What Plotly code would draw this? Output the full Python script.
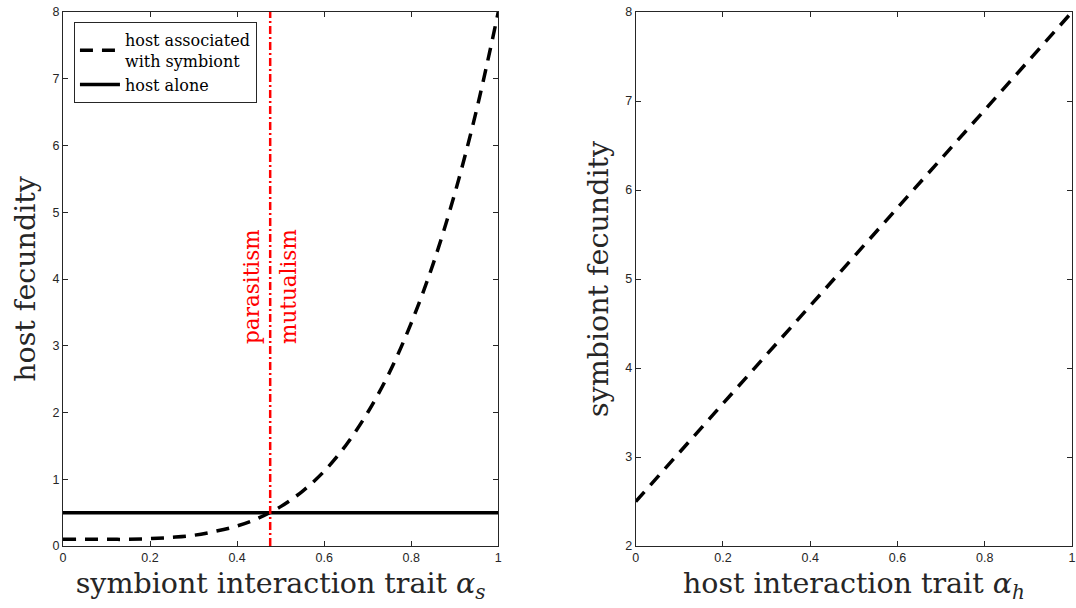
import plotly.graph_objects as go
from plotly.subplots import make_subplots

# ---- data ----
alpha_s = [0.0, 0.05, 0.1, 0.15, 0.2, 0.25, 0.3, 0.35, 0.4, 0.45, 0.5,
           0.55, 0.6, 0.65, 0.7, 0.75, 0.8, 0.85, 0.9, 0.95, 1.0]
host_with_symbiont = [0.10, 0.10, 0.10, 0.10, 0.11, 0.13, 0.16, 0.22, 0.30, 0.42, 0.59,
                      0.82, 1.12, 1.51, 2.00, 2.60, 3.34, 4.22, 5.28, 6.53, 8.00]
host_alone_x = [0.0, 1.0]
host_alone = [0.5, 0.5]
threshold_x = [0.476, 0.476]
threshold_y = [0.0, 8.0]
alpha_h = [0.0, 1.0]
symbiont_fecundity = [2.5, 8.0]
x_ticks = [0, 0.2, 0.4, 0.6, 0.8, 1]
x_tick_labels = ["0", "0.2", "0.4", "0.6", "0.8", "1"]

W, H = 1076, 608
ML, MR, MT, MB = 63, 0, 12, 62
plot_w = W - ML - MR
left_end = (500 - ML) / plot_w
right_start = (638 - ML) / plot_w

serif = "DejaVu Serif"
sans = "Liberation Sans"
axis_col = "#262626"
title_size = 28.5

fig = make_subplots(rows=1, cols=2)

fig.add_trace(go.Scatter(x=alpha_s, y=host_with_symbiont, mode="lines",
                         name="host associated<br>with symbiont",
                         line=dict(color="black", width=3.5, dash="13px,9px", shape="spline")),
              row=1, col=1)
fig.add_trace(go.Scatter(x=host_alone_x, y=host_alone, mode="lines", name="host alone",
                         line=dict(color="black", width=3.5)), row=1, col=1)
fig.add_trace(go.Scatter(x=threshold_x, y=threshold_y, mode="lines", showlegend=False,
                         line=dict(color="#ff0000", width=2.5, dash="8px,3px,2px,3px")),
              row=1, col=1)
fig.add_trace(go.Scatter(x=alpha_h, y=symbiont_fecundity, mode="lines", showlegend=False,
                         line=dict(color="black", width=3.5, dash="13px,9px")),
              row=1, col=2)

common_axis = dict(showline=True, linecolor=axis_col, linewidth=1, mirror="ticks",
                   ticks="inside", ticklen=5, tickcolor=axis_col, tickwidth=1,
                   showgrid=False, zeroline=False,
                   tickfont=dict(family=sans, size=12.5, color=axis_col))

fig.update_layout(
    width=W, height=H, margin=dict(l=ML, r=MR, t=MT, b=MB),
    paper_bgcolor="white", plot_bgcolor="white",
    xaxis=dict(domain=[0, left_end], range=[0, 1], tickvals=x_ticks, ticktext=x_tick_labels,
               title=dict(text="symbiont interaction trait <i>α</i><sub><i>s</i></sub>",
                          font=dict(family=serif, size=title_size, color=axis_col), standoff=9),
               **common_axis),
    yaxis=dict(range=[0, 8], dtick=1,
               title=dict(text="host fecundity", font=dict(family=serif, size=title_size, color=axis_col),
                          standoff=8),
               **common_axis),
    xaxis2=dict(domain=[right_start, 1], range=[0, 1], tickvals=x_ticks, ticktext=x_tick_labels,
                title=dict(text="host interaction trait <i>α</i><sub><i>h</i></sub>",
                           font=dict(family=serif, size=title_size, color=axis_col), standoff=9),
                **common_axis),
    yaxis2=dict(range=[2, 8], dtick=1,
                title=dict(text="symbiont fecundity", font=dict(family=serif, size=title_size, color=axis_col),
                           standoff=8),
                **common_axis),
    legend=dict(x=(74 - ML) / plot_w, y=1 - (22 - MT) / (H - MT - MB), xanchor="left", yanchor="top",
                bgcolor="white", bordercolor=axis_col, borderwidth=1,
                font=dict(family=serif, size=16, color="black"), tracegroupgap=0,
                itemwidth=40),
    showlegend=True,
)

fig.add_annotation(x=threshold_x[0], y=3.0, xref="x", yref="y", text="parasitism",
                   textangle=-90, showarrow=False, xanchor="right", yanchor="bottom",
                   xshift=-4, font=dict(family=serif, size=21.5, color="#ff0000"))
fig.add_annotation(x=threshold_x[0], y=3.0, xref="x", yref="y", text="mutualism",
                   textangle=-90, showarrow=False, xanchor="left", yanchor="bottom",
                   xshift=4, font=dict(family=serif, size=21.5, color="#ff0000"))

fig.write_html("out.html")
